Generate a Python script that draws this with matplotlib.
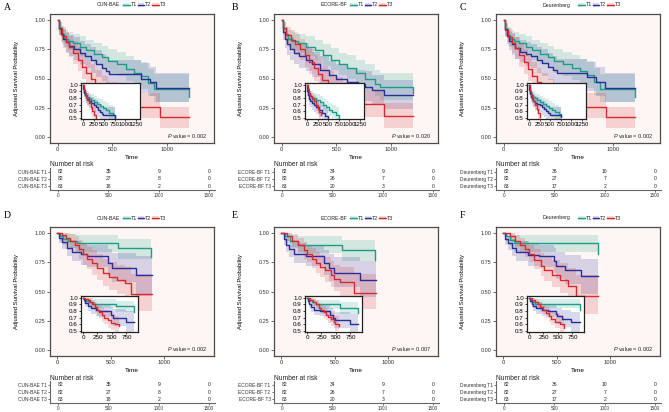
import matplotlib
matplotlib.use('Agg')
import matplotlib.pyplot as plt
from matplotlib.patches import Rectangle
from matplotlib.lines import Line2D

plt.rcParams['font.family'] = ['Liberation Sans', 'DejaVu Sans']
plt.rcParams['mathtext.fontset'] = 'custom'
plt.rcParams['mathtext.rm'] = 'Liberation Sans'
plt.rcParams['mathtext.it'] = 'Liberation Sans:italic'

# ---------------- data ----------------
groups = ['T1', 'T2', 'T3']
risk_times = [0, 500, 1000, 1500]

# Panel A  (CUN-BAE, top)
A_T1_t = [0, 15, 35, 60, 90, 140, 200, 260, 330, 400, 460, 540, 620, 700, 760, 830, 880, 1200]
A_T1_s = [1.00, 0.93, 0.88, 0.84, 0.82, 0.80, 0.77, 0.74, 0.71, 0.68, 0.65, 0.62, 0.58, 0.55, 0.52, 0.46, 0.41, 0.34]
A_T1_lo = [1.00, 0.88, 0.82, 0.77, 0.74, 0.72, 0.69, 0.66, 0.62, 0.59, 0.55, 0.52, 0.48, 0.44, 0.41, 0.35, 0.30, 0.22]
A_T1_hi = [1.00, 0.98, 0.95, 0.91, 0.90, 0.88, 0.86, 0.83, 0.80, 0.78, 0.75, 0.73, 0.69, 0.66, 0.64, 0.58, 0.54, 0.47]
A_T2_t = [0, 10, 25, 45, 70, 100, 150, 200, 250, 300, 350, 400, 440, 470, 760, 840, 900, 1200]
A_T2_s = [1.00, 0.93, 0.88, 0.84, 0.81, 0.78, 0.75, 0.72, 0.69, 0.66, 0.62, 0.59, 0.56, 0.54, 0.50, 0.47, 0.42, 0.42]
A_T2_lo = [1.00, 0.87, 0.81, 0.76, 0.72, 0.69, 0.66, 0.62, 0.59, 0.55, 0.51, 0.48, 0.45, 0.43, 0.38, 0.35, 0.30, 0.30]
A_T2_hi = [1.00, 0.98, 0.95, 0.92, 0.89, 0.87, 0.85, 0.82, 0.79, 0.77, 0.74, 0.71, 0.68, 0.66, 0.63, 0.60, 0.55, 0.55]
A_T3_t = [0, 15, 40, 70, 100, 140, 180, 220, 260, 300, 340, 400, 460, 540, 620, 710, 940, 1200]
A_T3_s = [1.00, 0.92, 0.86, 0.81, 0.77, 0.72, 0.66, 0.60, 0.55, 0.50, 0.45, 0.40, 0.35, 0.31, 0.28, 0.26, 0.17, 0.17]
A_T3_lo = [1.00, 0.86, 0.79, 0.73, 0.68, 0.62, 0.56, 0.50, 0.44, 0.39, 0.34, 0.29, 0.24, 0.20, 0.17, 0.16, 0.08, 0.08]
A_T3_hi = [1.00, 0.98, 0.94, 0.90, 0.86, 0.82, 0.77, 0.72, 0.66, 0.62, 0.57, 0.52, 0.47, 0.43, 0.40, 0.38, 0.26, 0.26]
A_risk_T1 = [82, 35, 9, 0]
A_risk_T2 = [82, 27, 8, 0]
A_risk_T3 = [83, 18, 2, 0]

# Panel B  (ECORE-BF, top)
B_T1_t = [0, 15, 35, 60, 90, 150, 220, 300, 380, 450, 520, 600, 680, 760, 850, 900, 1200]
B_T1_s = [1.00, 0.93, 0.88, 0.84, 0.82, 0.80, 0.77, 0.74, 0.70, 0.66, 0.62, 0.59, 0.55, 0.50, 0.45, 0.43, 0.38]
B_T1_lo = [1.00, 0.88, 0.82, 0.77, 0.74, 0.72, 0.69, 0.66, 0.61, 0.57, 0.53, 0.50, 0.45, 0.40, 0.35, 0.32, 0.26]
B_T1_hi = [1.00, 0.98, 0.95, 0.91, 0.90, 0.88, 0.86, 0.83, 0.79, 0.76, 0.72, 0.70, 0.66, 0.62, 0.57, 0.55, 0.50]
B_T2_t = [0, 10, 25, 45, 70, 110, 160, 220, 280, 350, 430, 500, 600, 700, 760, 830, 940, 1200]
B_T2_s = [1.00, 0.90, 0.84, 0.79, 0.75, 0.72, 0.69, 0.66, 0.62, 0.57, 0.53, 0.50, 0.47, 0.45, 0.43, 0.40, 0.36, 0.36]
B_T2_lo = [1.00, 0.83, 0.76, 0.70, 0.66, 0.62, 0.59, 0.56, 0.51, 0.46, 0.42, 0.39, 0.36, 0.33, 0.31, 0.28, 0.24, 0.24]
B_T2_hi = [1.00, 0.96, 0.92, 0.88, 0.85, 0.82, 0.80, 0.77, 0.73, 0.69, 0.65, 0.62, 0.59, 0.57, 0.56, 0.53, 0.49, 0.49]
B_T3_t = [0, 15, 40, 80, 120, 170, 210, 250, 290, 330, 370, 420, 480, 560, 650, 720, 940, 1200]
B_T3_s = [1.00, 0.93, 0.87, 0.83, 0.79, 0.75, 0.70, 0.64, 0.59, 0.54, 0.49, 0.44, 0.39, 0.35, 0.31, 0.28, 0.18, 0.18]
B_T3_lo = [1.00, 0.87, 0.80, 0.75, 0.70, 0.66, 0.60, 0.54, 0.48, 0.43, 0.38, 0.33, 0.28, 0.24, 0.20, 0.17, 0.08, 0.08]
B_T3_hi = [1.00, 0.98, 0.94, 0.91, 0.88, 0.84, 0.80, 0.75, 0.70, 0.66, 0.61, 0.56, 0.51, 0.47, 0.43, 0.40, 0.29, 0.29]
B_risk_T1 = [82, 34, 9, 0]
B_risk_T2 = [82, 26, 7, 0]
B_risk_T3 = [83, 20, 3, 0]

# Panel C  (Deurenberg, top)
C_T1_t = [0, 15, 35, 60, 90, 140, 200, 260, 330, 400, 460, 540, 620, 700, 760, 830, 880, 1200]
C_T1_s = [1.00, 0.92, 0.87, 0.84, 0.82, 0.80, 0.77, 0.74, 0.71, 0.68, 0.65, 0.62, 0.59, 0.56, 0.53, 0.47, 0.41, 0.34]
C_T1_lo = [1.00, 0.87, 0.81, 0.77, 0.74, 0.72, 0.69, 0.66, 0.62, 0.59, 0.55, 0.52, 0.49, 0.45, 0.42, 0.36, 0.30, 0.22]
C_T1_hi = [1.00, 0.97, 0.94, 0.91, 0.90, 0.88, 0.86, 0.83, 0.80, 0.78, 0.75, 0.73, 0.70, 0.67, 0.65, 0.59, 0.54, 0.47]
C_T2_t = [0, 10, 25, 45, 70, 100, 150, 200, 250, 300, 350, 400, 450, 490, 760, 840, 930, 1200]
C_T2_s = [1.00, 0.92, 0.86, 0.82, 0.79, 0.76, 0.73, 0.71, 0.69, 0.66, 0.63, 0.60, 0.57, 0.55, 0.51, 0.47, 0.42, 0.42]
C_T2_lo = [1.00, 0.86, 0.79, 0.74, 0.70, 0.67, 0.64, 0.61, 0.59, 0.55, 0.52, 0.49, 0.46, 0.44, 0.39, 0.35, 0.30, 0.30]
C_T2_hi = [1.00, 0.97, 0.93, 0.90, 0.88, 0.85, 0.83, 0.81, 0.79, 0.77, 0.75, 0.72, 0.69, 0.67, 0.64, 0.60, 0.55, 0.55]
C_T3_t = [0, 15, 40, 70, 100, 140, 180, 220, 260, 300, 340, 400, 460, 540, 620, 700, 940, 1200]
C_T3_s = [1.00, 0.91, 0.85, 0.80, 0.76, 0.70, 0.64, 0.58, 0.52, 0.47, 0.43, 0.38, 0.34, 0.30, 0.28, 0.26, 0.17, 0.17]
C_T3_lo = [1.00, 0.85, 0.78, 0.72, 0.67, 0.60, 0.54, 0.48, 0.42, 0.37, 0.32, 0.27, 0.23, 0.19, 0.17, 0.16, 0.08, 0.08]
C_T3_hi = [1.00, 0.97, 0.93, 0.89, 0.85, 0.80, 0.75, 0.69, 0.64, 0.59, 0.55, 0.50, 0.46, 0.42, 0.40, 0.38, 0.26, 0.26]
C_risk_T1 = [82, 36, 10, 0]
C_risk_T2 = [82, 27, 7, 0]
C_risk_T3 = [83, 17, 2, 0]

# Panel D  (CUN-BAE, bottom)
D_T1_t = [0, 20, 50, 100, 180, 570, 880]
D_T1_s = [1.00, 0.97, 0.95, 0.93, 0.91, 0.87, 0.79]
D_T1_lo = [1.00, 0.93, 0.90, 0.87, 0.84, 0.78, 0.67]
D_T1_hi = [1.00, 1.00, 1.00, 0.99, 0.98, 0.95, 0.93]
D_T2_t = [0, 15, 40, 90, 140, 220, 280, 475, 510, 735, 885]
D_T2_s = [1.00, 0.96, 0.92, 0.87, 0.84, 0.82, 0.80, 0.74, 0.70, 0.64, 0.64]
D_T2_lo = [1.00, 0.91, 0.86, 0.80, 0.76, 0.73, 0.71, 0.63, 0.58, 0.46, 0.46]
D_T2_hi = [1.00, 1.00, 0.98, 0.95, 0.93, 0.91, 0.90, 0.86, 0.83, 0.80, 0.80]
D_T3_t = [0, 40, 80, 120, 160, 200, 240, 280, 320, 370, 430, 480, 560, 630, 685, 885]
D_T3_s = [1.00, 0.98, 0.96, 0.93, 0.90, 0.86, 0.82, 0.78, 0.74, 0.70, 0.66, 0.62, 0.60, 0.57, 0.48, 0.48]
D_T3_lo = [1.00, 0.95, 0.91, 0.87, 0.83, 0.78, 0.73, 0.69, 0.64, 0.60, 0.55, 0.51, 0.48, 0.44, 0.33, 0.33]
D_T3_hi = [1.00, 1.00, 1.00, 0.99, 0.97, 0.94, 0.91, 0.88, 0.85, 0.82, 0.78, 0.75, 0.73, 0.71, 0.65, 0.65]
D_risk_T1 = [82, 35, 9, 0]
D_risk_T2 = [82, 27, 8, 0]
D_risk_T3 = [83, 18, 2, 0]

# Panel E  (ECORE-BF, bottom)
E_T1_t = [0, 30, 80, 150, 570, 880]
E_T1_s = [1.00, 0.97, 0.93, 0.90, 0.85, 0.77]
E_T1_lo = [1.00, 0.93, 0.87, 0.83, 0.76, 0.64]
E_T1_hi = [1.00, 1.00, 0.99, 0.97, 0.94, 0.92]
E_T2_t = [0, 25, 40, 70, 118, 225, 396, 443, 490, 737, 882]
E_T2_s = [1.00, 0.95, 0.90, 0.86, 0.82, 0.80, 0.74, 0.70, 0.66, 0.60, 0.60]
E_T2_lo = [1.00, 0.90, 0.84, 0.79, 0.74, 0.72, 0.64, 0.59, 0.54, 0.45, 0.45]
E_T2_hi = [1.00, 1.00, 0.97, 0.94, 0.91, 0.89, 0.85, 0.82, 0.79, 0.76, 0.76]
E_T3_t = [0, 55, 100, 150, 210, 240, 290, 320, 365, 410, 460, 490, 550, 675, 882]
E_T3_s = [1.00, 0.97, 0.93, 0.90, 0.85, 0.82, 0.78, 0.74, 0.71, 0.68, 0.64, 0.61, 0.58, 0.49, 0.49]
E_T3_lo = [1.00, 0.93, 0.88, 0.84, 0.78, 0.75, 0.70, 0.66, 0.62, 0.58, 0.54, 0.50, 0.46, 0.35, 0.35]
E_T3_hi = [1.00, 1.00, 0.98, 0.96, 0.92, 0.90, 0.87, 0.84, 0.81, 0.79, 0.76, 0.73, 0.71, 0.65, 0.65]
E_risk_T1 = [82, 34, 9, 0]
E_risk_T2 = [82, 26, 7, 0]
E_risk_T3 = [83, 20, 3, 0]

# Panel F  (Deurenberg, bottom)
F_T1_t = [0, 20, 60, 100, 885]
F_T1_s = [1.00, 0.97, 0.94, 0.91, 0.82]
F_T1_lo = [1.00, 0.93, 0.89, 0.84, 0.70]
F_T1_hi = [1.00, 1.00, 0.99, 0.98, 0.94]
F_T2_t = [0, 15, 45, 76, 121, 227, 333, 470, 490, 576, 727, 885]
F_T2_s = [1.00, 0.95, 0.91, 0.87, 0.84, 0.81, 0.80, 0.76, 0.72, 0.68, 0.63, 0.63]
F_T2_lo = [1.00, 0.90, 0.85, 0.80, 0.76, 0.72, 0.71, 0.66, 0.61, 0.56, 0.48, 0.48]
F_T2_hi = [1.00, 1.00, 0.97, 0.95, 0.93, 0.91, 0.90, 0.87, 0.84, 0.81, 0.78, 0.78]
F_T3_t = [0, 60, 106, 150, 197, 242, 288, 348, 380, 455, 530, 606, 676, 885]
F_T3_s = [1.00, 0.97, 0.93, 0.90, 0.86, 0.82, 0.77, 0.72, 0.68, 0.64, 0.60, 0.55, 0.46, 0.46]
F_T3_lo = [1.00, 0.93, 0.88, 0.84, 0.79, 0.75, 0.69, 0.63, 0.59, 0.54, 0.49, 0.44, 0.31, 0.31]
F_T3_hi = [1.00, 1.00, 0.98, 0.96, 0.93, 0.90, 0.86, 0.83, 0.80, 0.77, 0.74, 0.70, 0.64, 0.64]
F_risk_T1 = [82, 36, 10, 0]
F_risk_T2 = [82, 27, 7, 0]
F_risk_T3 = [83, 17, 2, 0]

panel_labels = ['A', 'B', 'C', 'D', 'E', 'F']
panel_titles = ['CUN-BAE', 'ECORE-BF', 'Deurenberg', 'CUN-BAE', 'ECORE-BF', 'Deurenberg']
p_values = ['0.002', '0.020', '0.002', '0.002', '0.007', '0.002']
main_yticks = [0.00, 0.25, 0.50, 0.75, 1.00]
main_xticks = [0, 500, 1000]
inset_yticks = [0.5, 0.6, 0.7, 0.8, 0.9, 1.0]
inset_xticks_top = [0, 250, 500, 750, 1000, 1250]
inset_xticks_bottom = [0, 250, 500, 750]

# ---------------- style ----------------
W, H = 669, 412
COLORS = ['#1c9e86', '#2b2d98', '#d42b2f']
BG = '#fdf6f5'
FRAME = '#4d4d4d'
SERIF = 'Liberation Serif'

fig = plt.figure(figsize=(W / 100, H / 100), dpi=100)
fig.patch.set_facecolor('white')


def ax_px(x0, y0, x1, y1):
    return fig.add_axes([x0 / W, 1 - y1 / H, (x1 - x0) / W, (y1 - y0) / H])


def ftext(x, y, s, **kw):
    fig.text(x / W, 1 - y / H, s, **kw)


def get_curves(letter):
    g = globals()
    out = []
    for k in groups:
        out.append((g[f'{letter}_{k}_t'], g[f'{letter}_{k}_s'],
                    g[f'{letter}_{k}_lo'], g[f'{letter}_{k}_hi']))
    return out


def get_risk(letter):
    g = globals()
    return [g[f'{letter}_risk_{k}'] for k in groups]


COL_X = [50, 274, 496]
ROW_Y = [14, 227]
FW, FH = 164, 129

for i, letter in enumerate(panel_labels):
    r, c = divmod(i, 3)
    fx0 = COL_X[c]
    fy0 = ROW_Y[r]
    fx1 = fx0 + FW
    fy1 = fy0 + FH
    curves = get_curves(letter)

    # ---- main KM axes ----
    ax = ax_px(fx0, fy0, fx1, fy1)
    ax.set_facecolor(BG)
    for col, (t, s, lo, hi) in zip(COLORS, curves):
        ax.fill_between(t, lo, hi, step='post', color=col, alpha=0.18, lw=0)
    for col, (t, s, lo, hi) in zip(COLORS, curves):
        ax.step(t, s, where='post', color=col, lw=1.0)
    if r == 0:
        ax.set_xlim(-72, 1430)
    else:
        ax.set_xlim(-70, 1465)
    ax.set_ylim(-0.05, 1.05)
    ax.set_xticks(main_xticks)
    ax.set_yticks(main_yticks)
    ax.set_xticklabels([str(v) for v in main_xticks], fontsize=4.2, color='#333333')
    ax.set_yticklabels([f'{v:.2f}' for v in main_yticks], fontsize=4.0, color='#333333')
    ax.tick_params(length=2, width=0.5, color='#333333', pad=1.2)
    for sp in ax.spines.values():
        sp.set_color(FRAME)
        sp.set_linewidth(0.9)
    ax.set_xlabel('Time', fontsize=4.6, labelpad=1.5)
    ax.set_ylabel('Adjusted Survival Probability', fontsize=4.2, labelpad=11)
    ax.text(0.96, 0.055, r'$\it{P}$ value = ' + p_values[i], transform=ax.transAxes,
            ha='right', va='center', fontsize=4.0, color='#222222')

    # ---- inset ----
    iax = ax_px(fx0 + 31, fy0 + 69, fx0 + 90 if r == 0 else fx0 + 88, fy0 + 105)
    iax.set_facecolor('white')
    for col, (t, s, lo, hi) in zip(COLORS, curves):
        keep = [k for k in range(len(s)) if s[k] >= 0.5]
        tk = [t[k] for k in keep]
        iax.fill_between(tk, [lo[k] for k in keep], [hi[k] for k in keep],
                         step='post', color=col, alpha=0.18, lw=0)
    for col, (t, s, lo, hi) in zip(COLORS, curves):
        keep = [k for k in range(len(s)) if s[k] >= 0.5]
        iax.step([t[k] for k in keep], [s[k] for k in keep], where='post', color=col, lw=1.0)
    iax.set_ylim(0.485, 1.025)
    if r == 0:
        iax.set_xlim(-46, 1342)
        iax.set_xticks(inset_xticks_top)
        iax.set_xticklabels([str(v) for v in inset_xticks_top], fontsize=4.3)
    else:
        iax.set_xlim(-35, 950)
        iax.set_xticks(inset_xticks_bottom)
        iax.set_xticklabels([str(v) for v in inset_xticks_bottom], fontsize=4.5)
    iax.set_yticks(inset_yticks)
    iax.set_yticklabels([f'{v:.1f}' for v in inset_yticks], fontsize=4.5)
    iax.tick_params(length=1.5, width=0.5, pad=0.8)
    for sp in iax.spines.values():
        sp.set_color('#222222')
        sp.set_linewidth(0.9)

    # ---- legend ----
    ly = fy0 - 9
    lx = fx0 + 47
    ftext(lx, ly, panel_titles[i], fontsize=3.8, ha='left', va='center', color='#222222')
    kx = lx + (len(panel_titles[i]) * 2.9) + 6
    for j, (col, name) in enumerate(zip(COLORS, groups)):
        x0 = kx + j * 14.5
        fig.add_artist(Rectangle((x0 / W, 1 - (ly + 2.2) / H), 6.5 / W, 4.4 / H,
                                 transform=fig.transFigure, color=col, alpha=0.18, lw=0))
        fig.add_artist(Line2D([x0 / W, (x0 + 6.5) / W], [1 - ly / H, 1 - ly / H],
                              transform=fig.transFigure, color=col, lw=1.0))
        ftext(x0 + 7.5, ly, name, fontsize=3.8, ha='left', va='center', color='#222222')

    # ---- panel label ----
    ftext([4, 232, 460][c], [8, 215][r], letter, fontsize=7, family=SERIF,
          ha='left', va='center')

    # ---- risk table ----
    ty_top = fy1 + 25
    ty_bot = fy1 + 47
    rax = ax_px(fx0, ty_top, fx0 + 165, ty_bot)
    risk = get_risk(letter)
    for j, row in enumerate(risk):
        yv = 3 - j
        for tv, n in zip(risk_times, row):
            rax.text(tv, yv, str(n), ha='left' if tv == 0 else 'center', va='center',
                     fontsize=3.6, color='#222222')
    rax.set_xlim(-79, 1559)
    rax.set_ylim(0.5, 3.5)
    rax.set_yticks([3, 2, 1])
    rax.set_yticklabels([f'{panel_titles[i]} {k}' for k in groups], fontsize=3.5)
    rax.set_xticks(risk_times)
    rax.set_xticklabels([str(v) for v in risk_times], fontsize=3.3)
    rax.tick_params(length=1.5, width=0.5, pad=1, colors='#333333')
    for side in ['top', 'right']:
        rax.spines[side].set_visible(False)
    for side in ['left', 'bottom']:
        rax.spines[side].set_color('#666666')
        rax.spines[side].set_linewidth(0.8)
    rax.set_facecolor('none')
    ftext(fx0, fy1 + 22, 'Number at risk', fontsize=4.8, ha='left', va='center', color='#222222')

fig.savefig('out.png', dpi=100)
